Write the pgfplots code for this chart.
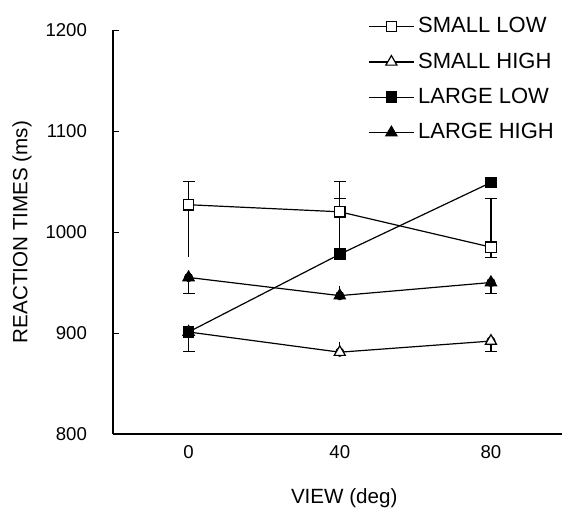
\documentclass[border=0pt]{standalone}
\usepackage{fontspec}
\setmainfont{Liberation Sans}
\usepackage{pgfplots}
\pgfplotsset{compat=1.18}

\begin{document}
\begin{tikzpicture}
    \begin{axis}[
        scale only axis,
        width=224.5pt,
        height=202pt,
        axis lines=left,
        axis line style={-, line width=0.6pt},
        xmin=-0.5, xmax=2.47,
        ymin=800, ymax=1200,
        ytick={800,900,1000,1100,1200},
        xtick={0,1,2},
        xticklabels={0,40,80},
        major x tick style={draw=none},
        extra x ticks={0.5,1.5},
        extra x tick labels={},
        extra x tick style={major tick length=5pt},
        tick align=inside,
        major tick length=3pt,
        tick style={line width=0.5pt, black},
        /pgf/number format/assume math mode=true,
        /pgf/number format/1000 sep={},
        ticklabel style={font=\fontsize{9.3}{10}\selectfont},
        yticklabel style={xshift=-9.5pt},
        xticklabel style={yshift=-2pt},
        xlabel={VIEW (deg)},
        ylabel={REACTION TIMES (ms)},
        label style={font=\fontsize{10.3}{12}\selectfont},
        xlabel style={at={(axis description cs:0.515,-0.1584)}, anchor=center},
        ylabel style={at={(axis description cs:-0.2027,0.5)}, anchor=center},
        legend style={draw=none, fill=none, at={(rel axis cs:0.555,1.052)}, anchor=north west,
            font=\fontsize{11}{13}\selectfont, row sep=4.5pt, legend cell align=left},
        legend image code/.code={\draw[mark repeat=2, mark phase=2] plot coordinates {(0cm,0cm) (0.39cm,0cm) (0.78cm,0cm)};},
        every axis plot/.append style={line width=0.6pt, black},
        error bars/error bar style={line width=0.6pt, black},
        error bars/error mark options={rotate=90, mark size=3pt, line width=0.6pt, black},
    ]
        % error bars with caps, upward
        \addplot[forget plot, only marks, mark=none,
            error bars/.cd, y dir=plus, y explicit] coordinates {
            (0,1027) +- (0,23)
            (1,1020) +- (0,30)
            (2,985) +- (0,48)
            (1,978) +- (0,55)
        };
        % error bars with caps, downward
        \addplot[forget plot, only marks, mark=none,
            error bars/.cd, y dir=minus, y explicit] coordinates {
            (2,985) +- (0,10)
            (0,901) +- (0,19)
            (0,955) +- (0,16)
            (2,950) +- (0,11)
            (2,892) +- (0,10)
        };
        % error bars without caps
        \addplot[forget plot, only marks, mark=none,
            error bars/.cd, y dir=both, y explicit, error mark=none] coordinates {
            (0,1027) += (0,0) -= (0,52)
            (1,881) += (0,10) -= (0,0)
            (1,937) += (0,10) -= (0,0)
        };

        \addplot[mark=square*, mark size=2.6pt, mark options={fill=white, solid}] coordinates {
            (0,1027) (1,1020) (2,985)
        };
        \addplot[mark=triangle*, mark size=3.2pt, mark options={fill=white, solid}] coordinates {
            (0,901) (1,881) (2,892)
        };
        \addplot[mark=square*, mark size=2.6pt, mark options={fill=black, solid}] coordinates {
            (0,901) (1,978) (2,1049)
        };
        \addplot[mark=triangle*, mark size=3.2pt, mark options={fill=black, solid}] coordinates {
            (0,955) (1,937) (2,950)
        };
        \legend{SMALL LOW, SMALL HIGH, LARGE LOW, LARGE HIGH}
        \coordinate (sw) at (rel axis cs:0,0);
        \coordinate (ne) at (rel axis cs:1,1);
    \end{axis}
    \pgfresetboundingbox
    \path ([shift={(-56.5pt,-40pt)}]sw) rectangle ([shift={(0pt,15pt)}]ne);
\end{tikzpicture}
\end{document}
